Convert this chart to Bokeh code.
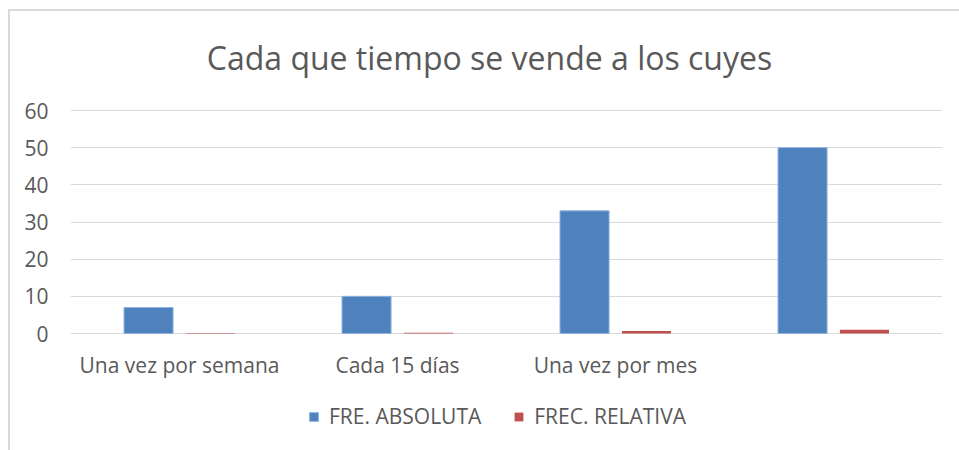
from bokeh.plotting import figure
from bokeh.models import ColumnDataSource, Legend, LegendItem, FactorRange, FixedTicker, Label
from bokeh.transform import dodge
from bokeh.embed import file_html
from bokeh.resources import INLINE

categories = ["Una vez por semana", "Cada 15 días", "Una vez por mes", " "]
fre_absoluta = [7, 10, 33, 50]
frec_relativa = [0.14, 0.2, 0.66, 1.0]
y_ticks = [0, 10, 20, 30, 40, 50, 60]

FONT = "Open Sans"
GRAY = "#595959"

src = ColumnDataSource(dict(cat=categories, a=fre_absoluta, r=frec_relativa))

# frame covers the whole canvas height; 0 sits at y=333px, 60 at y=110px
px_per_unit = (333 - 110) / 60
p = figure(width=959, height=450, x_range=FactorRange(*categories, range_padding=0),
           y_range=(-(450 - 333) / px_per_unit, 333 / px_per_unit),
           output_backend="svg", toolbar_location=None,
           min_border_left=70, min_border_right=17, min_border_top=0, min_border_bottom=0)
p.outline_line_color = None
p.border_fill_alpha = 0
p.background_fill_alpha = 0
p.styles = {"background":
            "linear-gradient(#d9d9d9,#d9d9d9) 8px 9px / 2px 100% no-repeat, "
            "linear-gradient(#d9d9d9,#d9d9d9) 8px 9px / 100% 2px no-repeat, white"}

b1 = p.vbar(x=dodge("cat", -0.142, range=p.x_range), top="a", width=0.225, source=src,
            fill_color="#4f81bd", line_color="#8eb3e0", line_width=1)
b2 = p.vbar(x=dodge("cat", 0.142, range=p.x_range), top="r", width=0.225, source=src,
            fill_color="#c0504d", line_color=None)

p.yaxis.ticker = FixedTicker(ticks=y_ticks)
p.xaxis.fixed_location = 0
p.xgrid.grid_line_color = None
p.ygrid.grid_line_color = "#d9d9d9"
p.ygrid.grid_line_width = 1
for ax in (p.xaxis, p.yaxis):
    ax.axis_line_color = None
    ax.major_tick_line_color = None
    ax.minor_tick_line_color = None
    ax.major_label_text_font = FONT
    ax.major_label_text_font_size = "21px"
    ax.major_label_text_color = GRAY
p.xaxis.major_label_standoff = 11
p.yaxis.major_label_standoff = 16

title = Label(x=419, y=450 - 57, x_units="screen", y_units="screen",
              text="Cada que tiempo se vende a los cuyes", text_font=FONT,
              text_font_size="32px", text_color=GRAY, text_align="center",
              text_baseline="middle")
p.add_layout(title)

legend = Legend(items=[LegendItem(label="FRE. ABSOLUTA", renderers=[b1]),
                       LegendItem(label="FREC. RELATIVA", renderers=[b2])],
                orientation="horizontal", location=(238, 20),
                label_text_font=FONT, label_text_font_size="21px",
                label_text_color=GRAY, glyph_width=11, glyph_height=11,
                spacing=32, padding=0, margin=0, border_line_color=None,
                background_fill_alpha=0, label_standoff=10)
p.add_layout(legend, "center")

open("out.html", "w").write(file_html(p, INLINE))
